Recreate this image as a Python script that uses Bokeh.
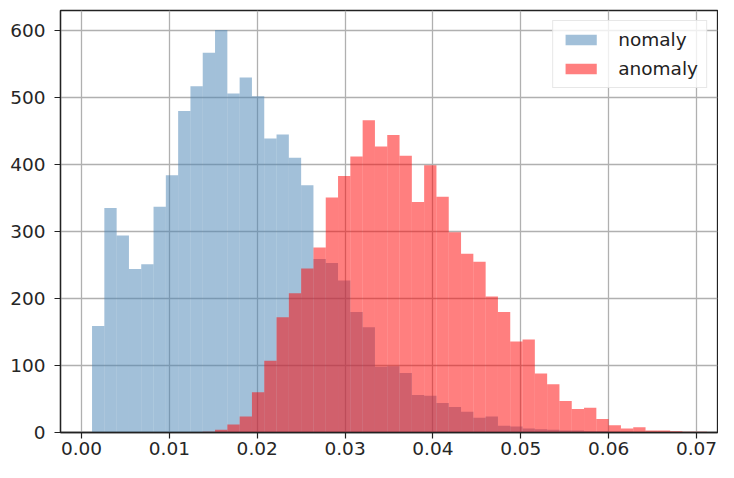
from bokeh.plotting import figure
from bokeh.models import FixedTicker, PrintfTickFormatter, Range1d
from bokeh.embed import file_html
from bokeh.resources import INLINE

# Histogram bins (shared by both series)
bin_start = 0.0012
bin_width = 0.0014

nomaly_counts = [159, 335, 294, 244, 251, 337, 384, 480, 517, 567,
                 601, 506, 530, 502, 439, 445, 410, 369, 259, 253,
                 227, 180, 157, 98, 99, 89, 56, 55, 44, 38,
                 31, 22, 24, 10, 9, 6, 5, 4, 3, 3,
                 2, 2, 1, 1, 0, 0, 0, 0, 0, 0]

anomaly_counts = [0, 0, 0, 0, 0, 0, 0, 0, 0, 1,
                  4, 12, 24, 60, 107, 172, 208, 245, 276, 351,
                  383, 412, 466, 427, 444, 413, 344, 399, 352, 299,
                  267, 255, 203, 180, 136, 139, 88, 72, 47, 35,
                  37, 20, 11, 6, 8, 3, 3, 2, 1, 1]

x_ticks = [0.00, 0.01, 0.02, 0.03, 0.04, 0.05, 0.06, 0.07]
y_ticks = [0, 100, 200, 300, 400, 500, 600]

lefts = [bin_start + i * bin_width for i in range(len(nomaly_counts))]
rights = [l + bin_width for l in lefts]

FONT = "DejaVu Sans"
FS = "18.5px"

p = figure(width=718, height=462, output_backend="svg", toolbar_location=None,
           x_range=Range1d(-0.00239, 0.07239), y_range=Range1d(0, 630),
           min_border_left=60, min_border_right=1, min_border_top=10, min_border_bottom=30)

p.quad(left=lefts, right=rights, bottom=0, top=nomaly_counts,
       fill_color="#4682b4", fill_alpha=0.5, line_color=None, legend_label="nomaly")
p.quad(left=lefts, right=rights, bottom=0, top=anomaly_counts,
       fill_color="#ff0000", fill_alpha=0.5, line_color=None, legend_label="anomaly")

p.background_fill_color = "white"
p.border_fill_color = "white"
p.outline_line_color = "#222222"
p.outline_line_width = 1.3
p.outline_line_alpha = 1

p.xaxis.ticker = FixedTicker(ticks=x_ticks)
p.yaxis.ticker = FixedTicker(ticks=y_ticks)
p.xaxis.formatter = PrintfTickFormatter(format="%.2f")

for ax in (p.xaxis, p.yaxis):
    ax.axis_line_color = "#222222"
    ax.axis_line_width = 1.3
    ax.major_tick_line_color = "#222222"
    ax.major_tick_line_width = 1.2
    ax.major_tick_out = 6
    ax.major_tick_in = 0
    ax.minor_tick_line_color = None
    ax.major_label_text_font = FONT
    ax.major_label_text_font_size = FS
    ax.major_label_text_color = "#262626"
p.xaxis.major_label_standoff = 3
p.yaxis.major_label_standoff = 9

p.grid.grid_line_color = "#b0b0b0"
p.grid.grid_line_width = 1.3

p.legend.location = "top_right"
p.legend.margin = 10
p.legend.padding = 8
p.legend.spacing = 8
p.legend.glyph_width = 39
p.legend.glyph_height = 13
p.legend.label_standoff = 18
p.legend.label_height = 20
p.legend.label_text_font = FONT
p.legend.label_text_font_size = FS
p.legend.label_text_color = "#222222"
p.legend.border_line_color = "#d0d0d0"
p.legend.border_line_width = 1
p.legend.background_fill_alpha = 0.8

open("out.html", "w").write(file_html(p, INLINE))
